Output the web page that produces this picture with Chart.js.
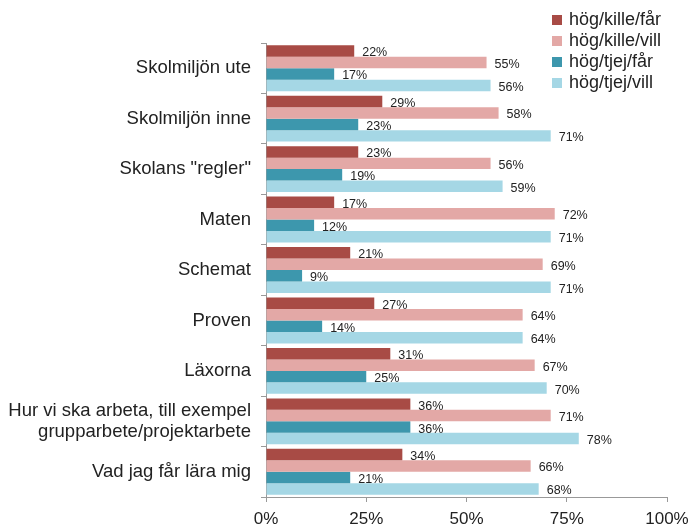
<!DOCTYPE html>
<html>
<head>
<meta charset="utf-8">
<script src="https://cdn.jsdelivr.net/npm/chart.js@4"></script>
<style>
  html, body { margin: 0; padding: 0; background: #fff; }
  #wrap { position: relative; width: 693px; height: 528px; }
  #legend { position: absolute; left: 552px; top: 9px; font-family: 'Liberation Sans', Arial, sans-serif; font-size: 18px; color: #222; }
  #legend div { height: 21px; line-height: 21px; white-space: nowrap; }
  #legend span { display: inline-block; width: 10px; height: 10px; margin-right: 7px; vertical-align: 0px; }
</style>
</head>
<body>
<div id="wrap">
  <canvas id="chart" width="693" height="528"></canvas>
  <div id="legend"></div>
</div>
<script>
// categories and series
const categories = [
  'Skolmiljön ute',
  'Skolmiljön inne',
  'Skolans "regler"',
  'Maten',
  'Schemat',
  'Proven',
  'Läxorna',
  ['Hur vi ska arbeta, till exempel', 'grupparbete/projektarbete'],
  'Vad jag får lära mig'
];
const seriesNames = ['hög/kille/får', 'hög/kille/vill', 'hög/tjej/får', 'hög/tjej/vill'];
const killeFar  = [22, 29, 23, 17, 21, 27, 31, 36, 34];
const killeVill = [55, 58, 56, 72, 69, 64, 67, 71, 66];
const tjejFar   = [17, 23, 19, 12,  9, 14, 25, 36, 21];
const tjejVill  = [56, 71, 59, 71, 71, 64, 70, 78, 68];
const xTicks = [0, 25, 50, 75, 100];
const colors = ['#a84b45', '#e3a8a6', '#3d97ad', '#a5d7e5'];

const seriesData = [killeFar, killeVill, tjejFar, tjejVill];

// legend drawn as html in the top right corner
const legendEl = document.getElementById('legend');
seriesNames.forEach((name, i) => {
  const row = document.createElement('div');
  row.innerHTML = `<span style="background:${colors[i]}"></span>${name}`;
  legendEl.appendChild(row);
});

// value labels to the right of each bar
const valueLabels = {
  id: 'valueLabels',
  afterDatasetsDraw(chart) {
    const ctx = chart.ctx;
    ctx.save();
    ctx.font = '12.5px "Liberation Sans", Arial, sans-serif';
    ctx.fillStyle = '#222';
    ctx.textAlign = 'left';
    ctx.textBaseline = 'middle';
    chart.data.datasets.forEach((ds, i) => {
      chart.getDatasetMeta(i).data.forEach((bar, j) => {
        ctx.fillText(ds.data[j] + '%', bar.x + 8, bar.y + 2);
      });
    });
    ctx.restore();
  }
};

const font = { family: "'Liberation Sans', Arial, sans-serif" };

new Chart(document.getElementById('chart').getContext('2d'), {
  type: 'bar',
  data: {
    labels: categories,
    datasets: seriesData.map((d, i) => ({
      label: seriesNames[i],
      data: d,
      backgroundColor: colors[i],
      borderWidth: 0,
      barPercentage: 1,
      categoryPercentage: 0.91
    }))
  },
  options: {
    indexAxis: 'y',
    responsive: false,
    animation: false,
    layout: { padding: { left: 0, right: 26, top: 43, bottom: 0 } },
    plugins: {
      legend: { display: false },
      tooltip: { enabled: false }
    },
    scales: {
      x: {
        min: 0,
        max: 100,
        afterBuildTicks: scale => { scale.ticks = xTicks.map(v => ({ value: v })); },
        afterFit: scale => { scale.height = 31; scale.paddingLeft = 0; scale.paddingRight = 0; },
        border: { color: '#999', width: 1 },
        grid: { drawOnChartArea: false, drawTicks: true, tickLength: 5, color: '#999' },
        ticks: { color: '#222', font: { ...font, size: 17 }, padding: 7, callback: v => v + '%' }
      },
      y: {
        afterFit: scale => { scale.width = 266; scale.paddingTop = 0; scale.paddingBottom = 0; },
        border: { color: '#999', width: 1 },
        grid: { drawOnChartArea: false, drawTicks: true, tickLength: 5, color: '#999', offset: true },
        ticks: { color: '#222', font: { ...font, size: 18.5, lineHeight: 1.14 }, padding: 10 }
      }
    }
  },
  plugins: [valueLabels]
});
</script>
</body>
</html>
